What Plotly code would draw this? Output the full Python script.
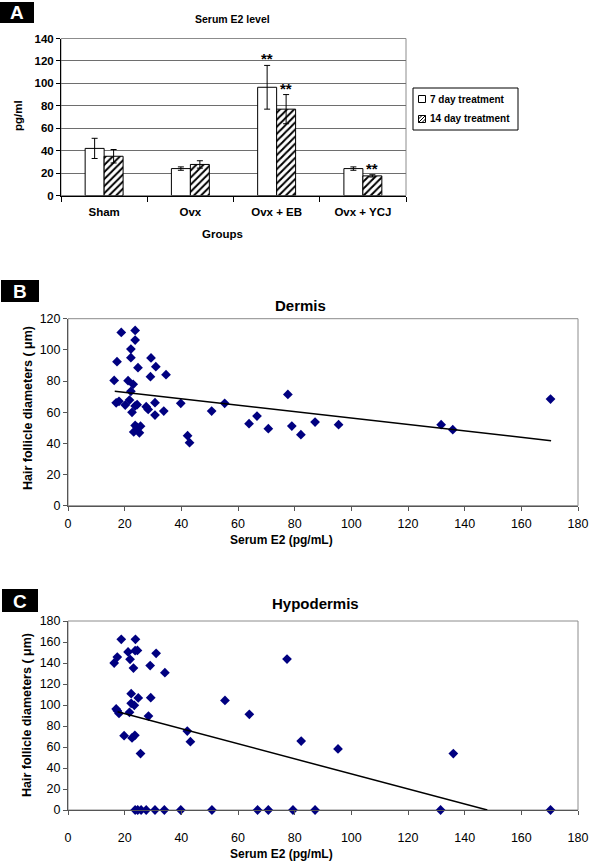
import plotly.graph_objects as go

# ---------------- Panel A data ----------------
groups = ["Sham", "Ovx", "Ovx + EB", "Ovx + YCJ"]
e2_7day = [42, 24, 96.5, 24]
e2_7day_err = [9, 1.5, 19.5, 1.5]
e2_14day = [35, 27.7, 77, 17.5]
e2_14day_err = [6, 3.3, 13, 1]
sig_7day = ["", "", "**", ""]
sig_14day = ["", "", "**", "**"]
legend_labels = ["7 day treatment", "14 day treatment"]

# ---------------- Panel B data (Dermis) ----------------
dermis_e2 = [16.3, 17.0, 17.3, 18.0, 18.8, 20.2, 21.2, 21.7, 22.2, 22.2, 22.2, 22.6,
             23.0, 23.2, 23.7, 23.7, 23.7, 23.7, 24.4, 24.4, 24.7, 25.2, 25.6, 27.6,
             28.3, 29.1, 29.3, 30.7, 30.7, 31.0, 33.8, 34.6, 39.8, 42.2, 42.9, 50.7,
             55.3, 63.9, 66.7, 70.7, 77.6, 79.0, 82.2, 87.2, 95.5, 131.7, 135.8, 170.3]
dermis_diam = [80.4, 66.0, 92.4, 67.0, 111.2, 64.6, 80.2, 67.8, 100.5, 95.0, 73.4, 59.9,
               77.9, 47.3, 112.5, 106.3, 64.0, 51.5, 64.8, 50.3, 88.6, 46.8, 51.0, 63.5,
               61.8, 82.8, 94.8, 66.1, 58.2, 89.2, 60.7, 84.1, 65.7, 44.9, 40.4, 60.7,
               65.7, 52.6, 57.5, 49.4, 71.4, 51.1, 45.6, 53.7, 52.0, 52.0, 48.8, 68.4]
dermis_trend_x = [16.5, 170.5]
dermis_trend_y = [73.5, 41.7]

# ---------------- Panel C data (Hypodermis) ----------------
hypo_e2 = [16.3, 17.0, 17.4, 17.4, 18.0, 18.8, 19.8, 21.2, 21.7, 21.9, 22.3, 22.3,
           22.6, 23.1, 23.4, 23.6, 23.7, 23.8, 24.5, 24.8, 25.6, 28.4, 29.0, 29.2,
           31.1, 34.2, 42.1, 43.2, 55.4, 64.0, 77.3, 82.3, 95.3, 136.0,
           23.7, 24.6, 25.8, 27.6, 30.7, 34.0, 39.8, 50.8, 66.9, 70.7, 79.4, 87.2,
           131.5, 170.3]
hypo_diam = [140, 96.2, 145.7, 94.6, 92, 162.5, 70.8, 150.5, 93, 143.5, 110.8, 101.6,
             68.6, 135.2, 99.7, 71.1, 151.7, 162.5, 152, 106.7, 53.7, 89.5, 137.5, 107,
             149.2, 130.8, 75.2, 65.1, 104.4, 91.1, 143.8, 65.7, 58.1, 53.7,
             0, 0, 0, 0, 0, 0, 0, 0, 0, 0, 0, 0,
             0, 0]
hypo_trend_x = [17.5, 148]
hypo_trend_y = [93.5, 0]

W, H = 600, 863
FONT = "Liberation Sans, Arial, sans-serif"
NAVY = "#000080"


def px_x(p):
    return p / W


def px_y(p):
    return 1 - p / H


fig = go.Figure()

# ---- Panel A bars ----
fig.add_trace(go.Bar(
    x=groups, y=e2_7day, name=legend_labels[0],
    marker=dict(color="white", line=dict(color="black", width=1)),
    error_y=dict(type="data", array=e2_7day_err, color="black", thickness=1, width=3),
    xaxis="x", yaxis="y",
))
fig.add_trace(go.Bar(
    x=groups, y=e2_14day, name=legend_labels[1],
    marker=dict(color="white", line=dict(color="black", width=1),
                pattern=dict(shape="/", fgcolor="black", bgcolor="white", size=5, solidity=0.4)),
    error_y=dict(type="data", array=e2_14day_err, color="black", thickness=1, width=3),
    xaxis="x", yaxis="y",
))

# ---- Panel B scatter ----
fig.add_trace(go.Scatter(
    x=dermis_e2, y=dermis_diam, mode="markers",
    marker=dict(symbol="diamond", size=7.5, color=NAVY),
    xaxis="x2", yaxis="y2", cliponaxis=False,
))
fig.add_trace(go.Scatter(
    x=dermis_trend_x, y=dermis_trend_y, mode="lines",
    line=dict(color="black", width=1.5), xaxis="x2", yaxis="y2",
))

# ---- Panel C scatter ----
fig.add_trace(go.Scatter(
    x=hypo_e2, y=hypo_diam, mode="markers",
    marker=dict(symbol="diamond", size=7.5, color=NAVY),
    xaxis="x3", yaxis="y3", cliponaxis=False,
))
fig.add_trace(go.Scatter(
    x=hypo_trend_x, y=hypo_trend_y, mode="lines",
    line=dict(color="black", width=1.5), xaxis="x3", yaxis="y3",
))

annotations = []
shapes = []

# significance marks
for i, g in enumerate(groups):
    for s, v, e, off in ((sig_7day[i], e2_7day[i], e2_7day_err[i], -0.11),
                         (sig_14day[i], e2_14day[i], e2_14day_err[i], 0.11)):
        if s:
            annotations.append(dict(x=i + off, y=v + e, xref="x", yref="y", text="<b>**</b>",
                                    showarrow=False, xanchor="center", yanchor="bottom", yshift=-4,
                                    font=dict(family=FONT, size=15, color="black")))

# panel letters
for letter, x0, y0, x1, y1 in (("A", 0, 2, 34, 23), ("B", 1, 280, 39, 302), ("C", 2, 589, 38, 612)):
    shapes.append(dict(type="rect", xref="paper", yref="paper",
                       x0=px_x(x0), x1=px_x(x1), y0=px_y(y1), y1=px_y(y0),
                       fillcolor="black", line=dict(width=0), layer="below"))
    annotations.append(dict(x=px_x((x0 + x1) / 2), y=px_y((y0 + y1) / 2 + 0.5), xref="paper", yref="paper",
                            xanchor="center", yanchor="middle",
                            text="<b>" + letter + "</b>", showarrow=False,
                            font=dict(family=FONT, size=19, color="white")))

# titles
texts = [
    ("Serum E2 level", 233, 19, 10.5, 0),
    ("pg/ml", 18, 116, 11.5, -90),
    ("Groups", 222, 234, 11.5, 0),
    ("Dermis", 300, 305, 15, 0),
    ("Hair follicle diameters ( μm)", 28, 408, 12.5, -90),
    ("Serum E2 (pg/mL)", 281, 540, 12, 0),
    ("Hypodermis", 315, 603, 15, 0),
    ("Hair follicle diameters ( μm)", 27, 715, 12.5, -90),
    ("Serum E2 (pg/mL)", 281, 854, 12, 0),
]
for t, x, y, sz, ang in texts:
    annotations.append(dict(x=px_x(x), y=px_y(y), xref="paper", yref="paper", text="<b>" + t + "</b>",
                            showarrow=False, textangle=ang, xanchor="center", yanchor="middle",
                            font=dict(family=FONT, size=sz, color="black")))

# manual legend for panel A
shapes.append(dict(type="rect", xref="paper", yref="paper",
                   x0=px_x(413), x1=px_x(518), y0=px_y(130), y1=px_y(88),
                   line=dict(color="black", width=1), fillcolor="white"))
for k, (label, cy) in enumerate(zip(legend_labels, (99, 119))):
    shapes.append(dict(type="rect", xref="paper", yref="paper",
                       x0=px_x(418.5), x1=px_x(425.5), y0=px_y(cy + 3.5), y1=px_y(cy - 3.5),
                       line=dict(color="black", width=1), fillcolor="white"))
    if k == 1:
        for d in (-3.5, 0, 3.5):
            xa, ya = 418.5 + max(0, d), cy + 3.5 - max(0, -d)
            xb, yb = 425.5 - max(0, -d), cy - 3.5 + max(0, d)
            shapes.append(dict(type="line", xref="paper", yref="paper",
                               x0=px_x(xa), y0=px_y(ya), x1=px_x(xb), y1=px_y(yb),
                               line=dict(color="black", width=1)))
    annotations.append(dict(x=px_x(428), y=px_y(cy), xref="paper", yref="paper",
                            xanchor="left", yanchor="middle", text="<b>" + label + "</b>", showarrow=False,
                            font=dict(family=FONT, size=10, color="black")))

# plot borders (gray top/right)
for xr, yr in (("x", "y"), ("x2", "y2"), ("x3", "y3")):
    shapes.append(dict(type="rect", xref=xr + " domain", yref=yr + " domain",
                       x0=0, x1=1, y0=0, y1=1, line=dict(color="#8c8c8c", width=1),
                       fillcolor="rgba(0,0,0,0)", layer="below"))

tickA = dict(family=FONT, size=11.5, color="black", weight="bold")
tickBC = dict(family=FONT, size=12.5, color="black")

common = dict(automargin=False, zeroline=False)

fig.update_layout(
    template="none",
    width=W, height=H, margin=dict(l=0, r=0, t=0, b=0, pad=0, autoexpand=False),
    paper_bgcolor="white", plot_bgcolor="white",
    barmode="group", bargap=0.56, bargroupgap=0,
    showlegend=False,
    xaxis=dict(domain=[px_x(61), px_x(406)], anchor="y", type="category",
               showline=True, linecolor="black", linewidth=1,
               ticks="outside", ticklen=5, tickcolor="black", tickson="boundaries",
               tickfont=tickA, showgrid=False, ticklabelstandoff=6, **common),
    yaxis=dict(domain=[px_y(195.5), px_y(38.5)], anchor="x", range=[0, 140], dtick=20,
               showline=True, linecolor="black", linewidth=1,
               ticks="outside", ticklen=4, tickcolor="black",
               tickfont=tickA, showgrid=True, gridcolor="#6e6e6e", gridwidth=1, **common),
    xaxis2=dict(domain=[px_x(68), px_x(578)], anchor="y2", range=[0, 180], dtick=20,
                showline=True, linecolor="#555", linewidth=1,
                ticks="outside", ticklen=4, tickcolor="#555",
                tickfont=tickBC, showgrid=False, ticklabelstandoff=2, **common),
    yaxis2=dict(domain=[px_y(505.7), px_y(318.7)], anchor="x2", range=[0, 120], dtick=20,
                showline=True, linecolor="#555", linewidth=1,
                ticks="outside", ticklen=4, tickcolor="#555",
                tickfont=tickBC, showgrid=False, **common),
    xaxis3=dict(domain=[px_x(68), px_x(578)], anchor="y3", range=[0, 180], dtick=20,
                showline=True, linecolor="#555", linewidth=1,
                ticks="outside", ticklen=4, tickcolor="#555",
                tickfont=tickBC, showgrid=False, ticklabelstandoff=12, **common),
    yaxis3=dict(domain=[px_y(810), px_y(621)], anchor="x3", range=[0, 180], dtick=20,
                showline=True, linecolor="#555", linewidth=1,
                ticks="outside", ticklen=4, tickcolor="#555",
                tickfont=tickBC, showgrid=False, **common),
    annotations=annotations, shapes=shapes,
)

fig.write_html("out.html", config={"displayModeBar": False},
               post_script="document.body.style.margin='0px';document.body.style.overflow='hidden';")
